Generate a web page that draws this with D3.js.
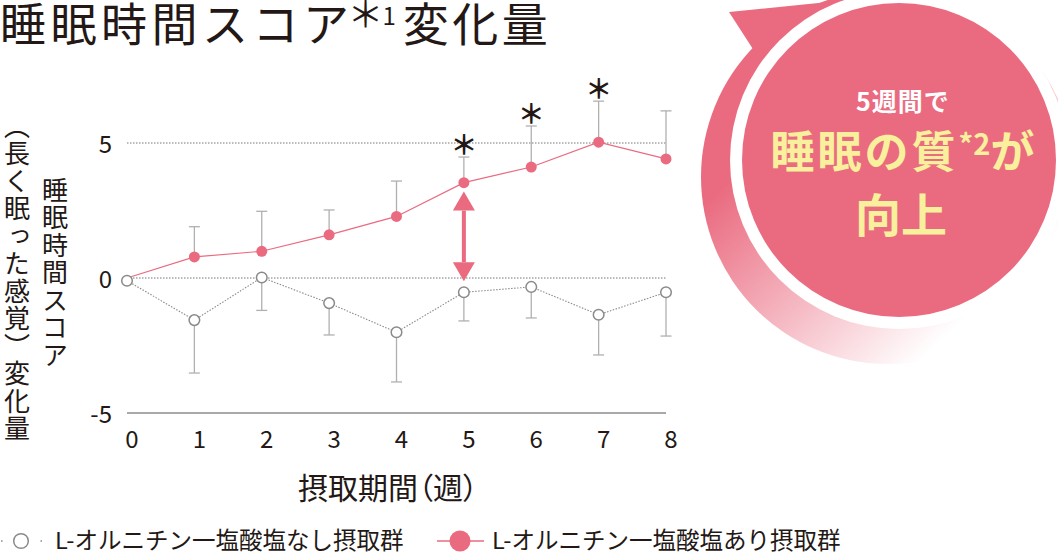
<!DOCTYPE html>
<html>
<head>
<meta charset="utf-8">
<script src="https://cdn.jsdelivr.net/npm/d3@7/dist/d3.min.js"></script>
<style>
  html, body { margin: 0; padding: 0; background: #fff; }
  svg { display: block; }
  text { font-family: "Noto Sans CJK JP", "Noto Sans", sans-serif; }
</style>
</head>
<body>
<svg id="chart" width="1058" height="555"></svg>
<script>
// ---- data ----
const weeks = [0, 1, 2, 3, 4, 5, 6, 7, 8];
const withOrnithine = [0, 0.78, 0.99, 1.60, 2.28, 3.53, 4.11, 5.03, 4.41];
const withOrnithineErr = [0, 1.12, 1.48, 0.92, 1.31, 0.95, 1.52, 1.52, 1.78];
const withoutOrnithine = [-0.1, -1.56, 0.02, -0.93, -2.01, -0.53, -0.33, -1.36, -0.53];
const withoutOrnithineErr = [0, 1.96, 1.22, 1.18, 1.84, 1.06, 1.15, 1.49, 1.62];
const significantWeeks = [5, 6, 7];
const yTicks = [-5, 0, 5];
const yTickLabels = ["-5", "0", "5"];
const xTickLabels = ["0", "1", "2", "3", "4", "5", "6", "7", "8"];
const titleMain = "睡眠時間スコア";
const titleStar = "＊";
const titleSup = "1";
const titleEnd = "変化量";
const yLabelRight = "睡眠時間スコア";
const yLabelLeft = "（長く眠った感覚）変化量";
const xLabel = "摂取期間（週）";
const legendLabels = ["L-オルニチン一塩酸塩なし摂取群", "L-オルニチン一塩酸塩あり摂取群"];
const badgeLine1 = "5週間で";
const badgeLine2 = ["睡眠の質", "*2", "が"];
const badgeLine3 = "向上";

const PINK = "#ea6b80";
const GRAY = "#8a8a8a";
const BAR = "#b0b0b0";
const YELLOW = "#f8f09c";
const INK = "#231815";

const svg = d3.select("#chart");

const x = d3.scaleLinear().domain([0, 8]).range([127, 666]);
const y = d3.scaleLinear().domain([-5, 5]).range([413, 143]);

// ---- badge ----
const defs = svg.append("defs");
const grad = defs.append("linearGradient")
  .attr("id", "fade").attr("gradientUnits", "userSpaceOnUse")
  .attr("x1", 720).attr("y1", 190).attr("x2", 900).attr("y2", 380);
grad.append("stop").attr("offset", 0).attr("stop-color", PINK).attr("stop-opacity", 1);
grad.append("stop").attr("offset", 1).attr("stop-color", PINK).attr("stop-opacity", 0);

const badge = svg.append("g");
badge.append("circle").attr("cx", 888).attr("cy", 177).attr("r", 187).attr("fill", "url(#fade)");
badge.append("path")
  .attr("d", "M729,12 L838,1 L870,60 L760,60 Z")
  .attr("fill", "url(#fade)");
badge.append("circle").attr("cx", 899).attr("cy", 160).attr("r", 169).attr("fill", "#fff");
badge.append("circle").attr("cx", 899).attr("cy", 160).attr("r", 157).attr("fill", PINK);

badge.append("text").attr("x", 903).attr("y", 111).attr("text-anchor", "middle")
  .attr("fill", "#fff").attr("font-size", 25).attr("font-weight", 700)
  .attr("letter-spacing", 1).text(badgeLine1);
const b2 = badge.append("text").attr("x", 904).attr("y", 168).attr("text-anchor", "middle")
  .attr("fill", YELLOW).attr("font-size", 44).attr("font-weight", 700).attr("letter-spacing", 3);
b2.append("tspan").text(badgeLine2[0]);
b2.append("tspan").attr("font-size", 29).attr("dy", -13).attr("letter-spacing", 0).text(badgeLine2[1]);
b2.append("tspan").attr("font-size", 44).attr("dy", 13).text(badgeLine2[2]);
badge.append("text").attr("x", 901).attr("y", 232).attr("text-anchor", "middle")
  .attr("fill", YELLOW).attr("font-size", 46).attr("font-weight", 700)
  .attr("letter-spacing", 0).text(badgeLine3);

// ---- title ----
const t = svg.append("text").attr("x", 0).attr("y", 41).attr("font-size", 46)
  .attr("fill", INK).attr("letter-spacing", 4.5);
t.append("tspan").text(titleMain);
t.append("tspan").attr("font-size", 36).attr("dx", -6).attr("dy", -13).attr("letter-spacing", 0).text(titleStar);
t.append("tspan").attr("font-size", 24).attr("dx", -1).attr("dy", -3).attr("letter-spacing", 0).text(titleSup);
t.append("tspan").attr("dx", 7).attr("dy", 16).attr("letter-spacing", 3.5).text(titleEnd);

// ---- y axis label (vertical) ----
svg.append("text").attr("x", 17).attr("y", 113)
  .style("writing-mode", "vertical-rl").attr("font-size", 26).attr("letter-spacing", 1.5)
  .attr("fill", INK).text(yLabelLeft);
svg.append("text").attr("x", 55).attr("y", 177)
  .style("writing-mode", "vertical-rl").attr("font-size", 26).attr("letter-spacing", 1.5)
  .attr("fill", INK).text(yLabelRight);

// ---- grid ----
const grid = svg.append("g");
yTicks.forEach((v, i) => {
  grid.append("line")
    .attr("x1", x(0)).attr("x2", x(8)).attr("y1", y(v)).attr("y2", y(v))
    .attr("stroke", v === -5 ? "#555" : "#777")
    .attr("stroke-width", v === -5 ? 1.2 : 1)
    .attr("stroke-dasharray", v === -5 ? null : "1.5,1.5");
  grid.append("text").attr("x", 112).attr("y", y(v) + 10).attr("text-anchor", "end")
    .attr("font-family", "Liberation Sans, Arial, sans-serif")
    .attr("font-size", 24).attr("fill", INK).text(yTickLabels[i]);
});
weeks.forEach((w, i) => {
  grid.append("text").attr("x", x(w) + 5).attr("y", 448).attr("text-anchor", "middle")
    .attr("font-family", "Liberation Sans, Arial, sans-serif")
    .attr("font-size", 24).attr("fill", INK).text(xTickLabels[i]);
});
svg.append("text").attr("x", 388).attr("y", 499).attr("text-anchor", "middle")
  .style("font-feature-settings", "'palt' 1")
  .attr("font-size", 30).attr("fill", INK).text(xLabel);

// ---- error bars ----
const bars = svg.append("g").attr("stroke", BAR).attr("stroke-width", 1.3);
weeks.forEach((w, i) => {
  if (withOrnithineErr[i] > 0) {
    const top = withOrnithine[i] + withOrnithineErr[i];
    bars.append("line").attr("x1", x(w)).attr("x2", x(w)).attr("y1", y(withOrnithine[i])).attr("y2", y(top));
    bars.append("line").attr("x1", x(w) - 5.5).attr("x2", x(w) + 5.5).attr("y1", y(top)).attr("y2", y(top));
  }
  if (withoutOrnithineErr[i] > 0) {
    const bot = withoutOrnithine[i] - withoutOrnithineErr[i];
    bars.append("line").attr("x1", x(w)).attr("x2", x(w)).attr("y1", y(withoutOrnithine[i])).attr("y2", y(bot));
    bars.append("line").attr("x1", x(w) - 5.5).attr("x2", x(w) + 5.5).attr("y1", y(bot)).attr("y2", y(bot));
  }
});

// ---- significance asterisks ----
significantWeeks.forEach(w => {
  const i = weeks.indexOf(w);
  const top = withOrnithine[i] + withOrnithineErr[i];
  svg.append("text").attr("x", x(w)).attr("y", y(top) - 2).attr("text-anchor", "middle")
    .attr("font-weight", 700)
    .attr("font-size", 27).attr("fill", INK).text("＊");
});

// ---- difference arrow at week 5 ----
const ax = x(5);
const aTop = y(3.2), aBot = y(-0.12);
const ah = 19, aw = 11;
svg.append("line").attr("x1", ax).attr("x2", ax).attr("y1", aTop + ah).attr("y2", aBot - ah)
  .attr("stroke", PINK).attr("stroke-width", 4);
svg.append("path").attr("d", `M${ax},${aTop} L${ax + aw},${aTop + ah} L${ax - aw},${aTop + ah} Z`).attr("fill", PINK);
svg.append("path").attr("d", `M${ax},${aBot} L${ax + aw},${aBot - ah} L${ax - aw},${aBot - ah} Z`).attr("fill", PINK);

// ---- lines ----
const lineGen = d3.line().x((d, i) => x(weeks[i])).y(d => y(d));
svg.append("path").datum(withoutOrnithine).attr("d", lineGen)
  .attr("fill", "none").attr("stroke", GRAY).attr("stroke-width", 1.1).attr("stroke-dasharray", "1.5,1.5");
svg.append("path").datum(withOrnithine).attr("d", lineGen)
  .attr("fill", "none").attr("stroke", PINK).attr("stroke-width", 1.2);

// ---- markers ----
svg.append("g").selectAll("circle").data(withoutOrnithine).join("circle")
  .attr("cx", (d, i) => x(weeks[i])).attr("cy", d => y(d)).attr("r", 5.3)
  .attr("fill", "#fff").attr("stroke", GRAY).attr("stroke-width", 1.5);
svg.append("g").selectAll("circle").data(withOrnithine.slice(1)).join("circle")
  .attr("cx", (d, i) => x(weeks[i + 1])).attr("cy", d => y(d)).attr("r", 5.5)
  .attr("fill", PINK);

// ---- legend ----
const lg = svg.append("g");
lg.append("line").attr("x1", 1).attr("x2", 44).attr("y1", 541).attr("y2", 541)
  .attr("stroke", GRAY).attr("stroke-width", 1.5).attr("stroke-dasharray", "1.5,38");
lg.append("circle").attr("cx", 21).attr("cy", 541).attr("r", 7.3)
  .attr("fill", "#fff").attr("stroke", GRAY).attr("stroke-width", 1.5);
lg.append("text").attr("x", 55).attr("y", 549).attr("font-size", 23.5).attr("fill", INK).text(legendLabels[0]);
lg.append("line").attr("x1", 437).attr("x2", 484).attr("y1", 541).attr("y2", 541)
  .attr("stroke", PINK).attr("stroke-width", 1.5);
lg.append("circle").attr("cx", 460).attr("cy", 541).attr("r", 10.5).attr("fill", PINK);
lg.append("text").attr("x", 492).attr("y", 549).attr("font-size", 23.5).attr("fill", INK).text(legendLabels[1]);
</script>
</body>
</html>
